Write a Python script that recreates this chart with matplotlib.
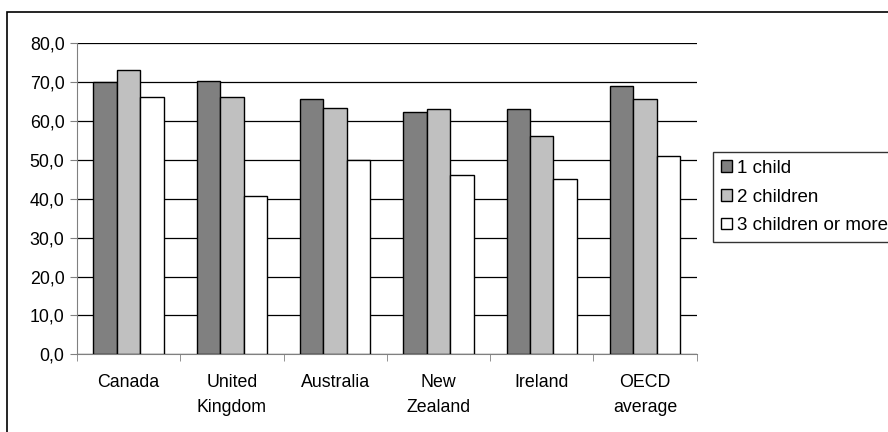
import matplotlib.pyplot as plt
import numpy as np
from matplotlib.patches import Rectangle

plt.rcParams['font.family'] = ['Liberation Sans', 'DejaVu Sans']

categorias = ['Canada', 'United\nKingdom', 'Australia', 'New\nZealand', 'Ireland', 'OECD\naverage']
um_filho = [70.1, 70.2, 65.6, 62.2, 63.1, 69.0]
dois_filhos = [73.2, 66.3, 63.4, 63.1, 56.1, 65.6]
tres_ou_mais = [66.3, 40.6, 50.0, 46.1, 45.1, 50.9]
series = ['1 child', '2 children', '3 children or more']

fs = 12.8

fig = plt.figure(figsize=(8.88, 4.32), dpi=100)
ax = fig.add_axes([77 / 888, 1 - 354.3 / 432, (696.7 - 77) / 888, (354.3 - 43.3) / 432])

# moldura externa (cortada à direita e embaixo, como no original)
fig.patches.append(Rectangle((7 / 888, -0.05), 1.1, 1 - 12 / 432 + 0.05, transform=fig.transFigure,
                             fill=False, edgecolor='black', linewidth=1.2))

x = np.arange(len(categorias))
w = 0.227
cores = ['#808080', '#c0c0c0', '#ffffff']
for i, (vals, cor, nome) in enumerate(zip([um_filho, dois_filhos, tres_ou_mais], cores, series)):
    ax.bar(x + (i - 1) * w, vals, width=w, color=cor, edgecolor='black', linewidth=1.0,
           label=nome, zorder=3)

ax.set_xlim(-0.5, len(categorias) - 0.5)
ax.set_ylim(0, 80)
ax.set_yticks(np.arange(0, 81, 10))
ax.set_yticklabels([f'{v:.1f}'.replace('.', ',') for v in np.arange(0, 81, 10)], fontsize=fs)
ax.yaxis.grid(True, color='black', linewidth=0.9, zorder=0)
ax.set_axisbelow(True)

ax.set_xticks(x)
ax.set_xticklabels(categorias, fontsize=fs, linespacing=1.65)
ax.tick_params(axis='x', length=0, pad=14)
ax.set_xticks(np.arange(-0.5, len(categorias)), minor=True)
ax.tick_params(axis='x', which='minor', length=5, color='#808080')
ax.tick_params(axis='y', length=5, color='#808080', pad=4)

for s in ['top', 'right']:
    ax.spines[s].set_visible(False)
ax.spines['left'].set_color('#808080')
ax.spines['bottom'].set_color('#808080')

leg = fig.legend(loc='upper left', bbox_to_anchor=(712.7 / 888, 1 - 152 / 432),
                 fontsize=13.5, frameon=True, fancybox=False, edgecolor='black',
                 handlelength=0.6, handleheight=0.6, handletextpad=0.3,
                 labelspacing=0.62, borderpad=0.42, borderaxespad=0)
leg.get_frame().set_linewidth(1.0)

fig.savefig('out.png', dpi=100)
